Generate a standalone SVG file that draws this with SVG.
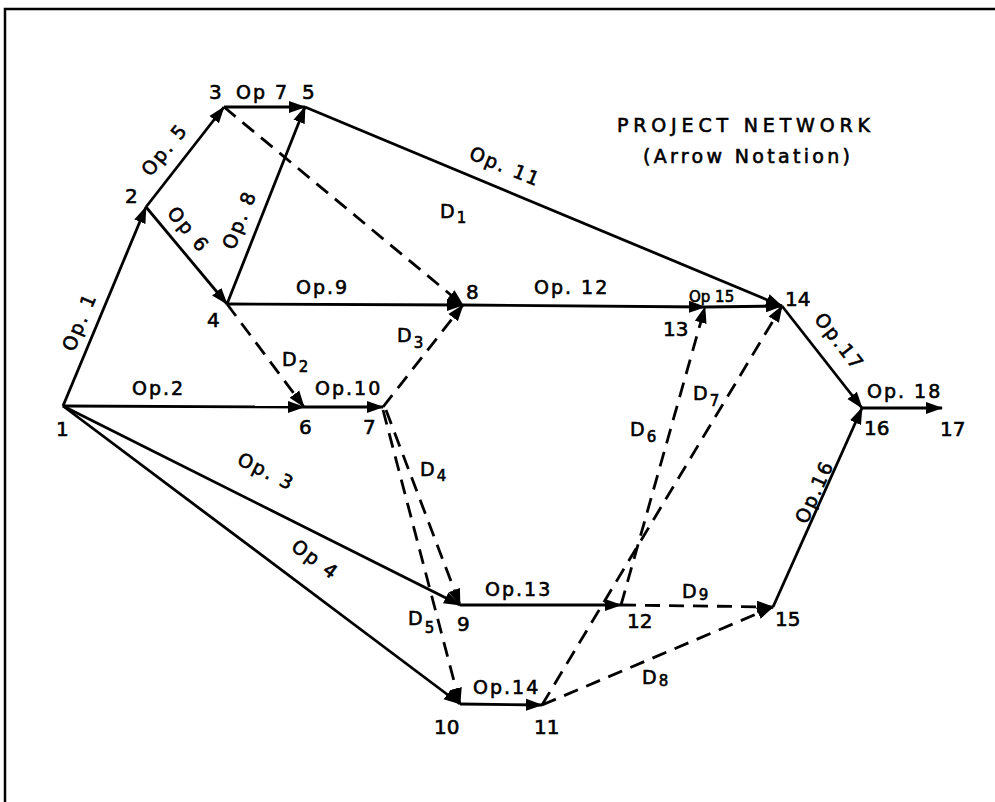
<svg xmlns="http://www.w3.org/2000/svg" width="995" height="802" viewBox="0 0 995 802">
<style>
  .e { stroke:#000; stroke-width:2.8; fill:none; marker-end:url(#ah); }
  .d { stroke:#000; stroke-width:2.8; fill:none; stroke-dasharray:15 9; marker-end:url(#ah); }
  text { font-family:"DejaVu Sans","Liberation Sans",sans-serif; fill:#000; stroke:#000; stroke-width:0.6; }
  .n { font-size:20px; }
  .l { font-size:19px; letter-spacing:2px; }
  .c { text-anchor:middle; }
  .s { font-size:15px; }
</style>
<defs>
  <marker id="ah" markerUnits="userSpaceOnUse" markerWidth="18" markerHeight="14" viewBox="0 0 18 14" refX="16" refY="7" orient="auto">
    <path d="M0,1 L17,7 L0,13 z" fill="#000"/>
  </marker>
</defs>
<rect width="995" height="802" fill="#fff"/>
<path d="M5,802 L5,9 L995,9" stroke="#000" stroke-width="2.5" fill="none"/>

<g id="connectors">
  <line class="e" x1="63" y1="406" x2="146" y2="207"/>
  <line class="e" x1="63" y1="406" x2="304" y2="407"/>
  <line class="e" x1="63" y1="406" x2="460" y2="605"/>
  <line class="e" x1="63" y1="406" x2="460" y2="704"/>
  <line class="e" x1="146" y1="207" x2="224" y2="107"/>
  <line class="e" x1="146" y1="207" x2="227" y2="304"/>
  <line class="e" x1="224" y1="107" x2="305" y2="107"/>
  <line class="e" x1="227" y1="304" x2="305" y2="107"/>
  <line class="e" x1="227" y1="304" x2="463" y2="305"/>
  <line class="e" x1="304" y1="407" x2="383" y2="407"/>
  <line class="e" x1="305" y1="107" x2="782" y2="306"/>
  <line class="e" x1="463" y1="305" x2="705" y2="307"/>
  <line class="e" x1="460" y1="605" x2="621" y2="605"/>
  <line class="e" x1="460" y1="704" x2="542" y2="705"/>
  <line class="e" x1="705" y1="307" x2="782" y2="306"/>
  <line class="e" x1="773" y1="607" x2="862" y2="408"/>
  <line class="e" x1="782" y1="306" x2="862" y2="408"/>
  <line class="e" x1="862" y1="408" x2="942" y2="408"/>
  <line class="d" x1="224" y1="107" x2="463" y2="305"/>
  <line class="d" x1="227" y1="304" x2="304" y2="407"/>
  <line class="d" x1="383" y1="407" x2="463" y2="305"/>
  <line class="d" x1="386" y1="410" x2="460" y2="605"/>
  <line class="d" x1="383" y1="410" x2="460" y2="704"/>
  <line class="d" x1="621" y1="605" x2="705" y2="307"/>
  <line class="d" x1="542" y1="705" x2="782" y2="306"/>
  <line class="d" x1="542" y1="705" x2="773" y2="607"/>
  <line class="d" x1="621" y1="605" x2="773" y2="607"/>
</g>

<g id="node1"><text class="n" x="56" y="436">1</text></g>
<g id="node2"><text class="n" x="125" y="203">2</text></g>
<g id="node3"><text class="n" x="209" y="99">3</text></g>
<g id="node4"><text class="n" x="207" y="327">4</text></g>
<g id="node5"><text class="n" x="302" y="99">5</text></g>
<g id="node6"><text class="n" x="299" y="434">6</text></g>
<g id="node7"><text class="n" x="363" y="434">7</text></g>
<g id="node8"><text class="n" x="466" y="299">8</text></g>
<g id="node9"><text class="n" x="457" y="631">9</text></g>
<g id="node10"><text class="n" x="434" y="734">10</text></g>
<g id="node11"><text class="n" x="534" y="734">11</text></g>
<g id="node12"><text class="n" x="627" y="628">12</text></g>
<g id="node13"><text class="n" x="663" y="336">13</text></g>
<g id="node14"><text class="n" x="785" y="306">14</text></g>
<g id="node15"><text class="n" x="775" y="626">15</text></g>
<g id="node16"><text class="n" x="864" y="435">16</text></g>
<g id="node17"><text class="n" x="940" y="436">17</text></g>

<g id="labels">
  <text class="l c" transform="translate(80,322) rotate(-67.6)" y="6">Op. 1</text>
  <text class="l" x="132" y="395">Op.2</text>
  <text class="l c" transform="translate(266,472) rotate(26.5)" y="6">Op. 3</text>
  <text class="l c" transform="translate(315,560) rotate(36.8)" y="6">Op 4</text>
  <text class="l c" transform="translate(165,150) rotate(-51)" y="6">Op. 5</text>
  <text class="l c" transform="translate(188,230) rotate(50)" y="6">Op 6</text>
  <text class="l" x="236" y="99">Op 7</text>
  <text class="l c" transform="translate(240,220) rotate(-68.5)" y="6">Op. 8</text>
  <text class="l" x="296" y="294">Op.9</text>
  <text class="l" x="315" y="395">Op.10</text>
  <text class="l c" transform="translate(505,167) rotate(22.5)" y="6">Op. 11</text>
  <text class="l" x="534" y="294">Op. 12</text>
  <text class="l" x="485" y="596">Op.13</text>
  <text class="l" x="473" y="694">Op.14</text>
  <text x="689" y="302" font-size="15">Op 15</text>
  <text class="l c" transform="translate(815,492) rotate(-65.8)" y="6">Op.16</text>
  <text class="l c" transform="translate(839,342) rotate(52)" y="6">Op.17</text>
  <text class="l" x="867" y="398">Op. 18</text>
  <text class="l" x="440" y="218">D<tspan class="s" dy="5">1</tspan></text>
  <text class="l" x="282" y="366">D<tspan class="s" dy="6">2</tspan></text>
  <text class="l" x="397" y="342">D<tspan class="s" dy="6">3</tspan></text>
  <text class="l" x="420" y="476">D<tspan class="s" dy="5">4</tspan></text>
  <text class="l" x="408" y="625">D<tspan class="s" dy="8">5</tspan></text>
  <text class="l" x="630" y="436">D<tspan class="s" dy="6">6</tspan></text>
  <text class="l" x="693" y="400">D<tspan class="s" dy="6">7</tspan></text>
  <text class="l" x="642" y="684">D<tspan class="s" dy="2">8</tspan></text>
  <text class="l" x="682" y="598">D<tspan class="s" dy="2">9</tspan></text>
</g>

<g id="title">
  <text x="617" y="132" font-size="19" textLength="253" lengthAdjust="spacing">PROJECT NETWORK</text>
  <text x="643" y="163" font-size="19" textLength="207" lengthAdjust="spacing">(Arrow Notation)</text>
</g>
</svg>
